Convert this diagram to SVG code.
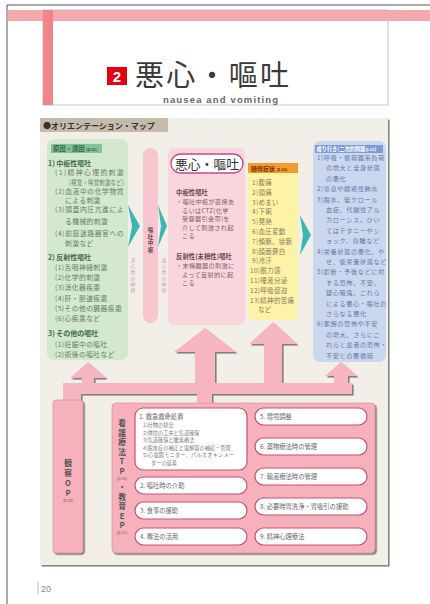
<svg xmlns="http://www.w3.org/2000/svg" width="430" height="604" viewBox="0 0 430 604">
<defs>
<filter id="sh" x="-10%" y="-10%" width="130%" height="130%"><feDropShadow dx="1.6" dy="1.6" stdDeviation="0.7" flood-color="#444" flood-opacity="0.65"/></filter>
<style>
text{font-family:"Noto Sans CJK JP","Noto Sans",sans-serif;}
.g{font-size:6.8px;fill:#5f7f63;letter-spacing:0.4px}
.gb{font-size:7px;fill:#3f6b45;font-weight:bold}
.c{font-size:6.2px;fill:#7a6268;letter-spacing:0.3px}
.cb{font-size:6.4px;fill:#6a4a52;font-weight:bold}
.y{font-size:6.5px;fill:#8a7a5a;letter-spacing:0.3px}
.b{font-size:6.2px;fill:#6678a8;letter-spacing:0.6px}
.it{font-size:6.3px;fill:#666}
.sub{font-size:5.2px;fill:#777}
.vt2{font-size:7.7px;fill:#555;font-weight:bold;text-anchor:middle}
.vp{font-size:4px;font-weight:normal;fill:#666}
.nv{font-size:5px;fill:#d59aa6;text-anchor:middle}
.item{fill:#fff;stroke:#c9506e;stroke-width:1.2}
.pk{fill:#f6b6c1}
.tl{fill:#3bb7b0}
</style>
</defs>
<rect width="430" height="604" fill="#fff"/>
<!-- page frame -->
<line x1="7" y1="5" x2="430" y2="5" stroke="#555" stroke-width="1"/>
<line x1="7" y1="5" x2="7" y2="604" stroke="#555" stroke-width="1"/>
<!-- header -->
<g id="header">
<rect x="7.5" y="10" width="422.5" height="11" fill="#f5a9ad"/>
<rect x="43" y="10" width="345" height="95" fill="none" stroke="#b8b8b8" stroke-width="0.8"/>
<rect x="43" y="10" width="10" height="95" fill="#ef8589"/>
<rect x="107" y="67" width="20" height="18" fill="#e60012"/>
<text x="117" y="82" font-size="15" font-weight="bold" fill="#fff" text-anchor="middle" style="font-family:'Liberation Sans',sans-serif">2</text>
<text x="135" y="86" font-size="29" fill="#3a3a3a" textLength="154" lengthAdjust="spacing">悪心・嘔吐</text>
<text x="163" y="103" font-size="9.5" font-weight="bold" fill="#666" textLength="115" style="font-family:'Liberation Sans',sans-serif">nausea and vomiting</text>
</g>
<!-- panel -->
<g id="panel">
<rect x="40" y="118" width="348" height="447" fill="#f2efe9" filter="url(#sh)"/>
<rect x="40" y="118" width="128" height="14" fill="#c6bbab"/>
<text x="43" y="128.5" font-size="8" font-weight="bold" fill="#333">●オリエンテーション・マップ</text>
</g>
<!-- connectors -->
<g id="connectors">
<g filter="url(#sh)">
<rect class="pk" x="63" y="383" width="289" height="11"/>
<rect class="pk" x="63" y="383" width="18" height="20"/>
<rect class="pk" x="197" y="390" width="15" height="15"/>
<polygon class="pk" points="88,362 106,378 94,378 94,388 82,388 82,378 70,378"/>
<polygon class="pk" points="205,328 236,352 215,352 215,388 195,388 195,352 174,352"/>
<polygon class="pk" points="273,322 297,344 282,344 282,388 264,388 264,344 249,344"/>
<polygon class="pk" points="341,362 357,376 348,376 348,388 334,388 334,376 325,376"/>
</g>
<polygon class="tl" points="128,205 140,226 128,247 132,226"/>
<polygon class="tl" points="158,205 167,226 158,247 161,226"/>
<polygon class="tl" points="300,215 311,235 300,255 303,235"/>
</g>
<!-- cause box -->
<g id="cause">
<rect x="47" y="139" width="81" height="221" rx="7" fill="#d3e8cf"/>
<rect x="51" y="144" width="51" height="9" fill="#86c095"/>
<text x="53" y="151" font-size="6.3" font-weight="bold" fill="#2c6a3c">原因・誘因 <tspan font-size="4">(p.22)</tspan></text>
<text class="gb" x="48" y="166">1) 中枢性嘔吐</text>
<text class="g" x="55" y="175" textLength="69" lengthAdjust="spacing">(1)精神心理的刺激</text>
<text class="g" x="69" y="184.5" font-size="6" textLength="55" lengthAdjust="spacingAndGlyphs">(視覚・嗅覚刺激など)</text>
<text class="g" x="55" y="194" textLength="69" lengthAdjust="spacing">(2)血液中の化学物質</text>
<text class="g" x="65" y="202.5">による刺激</text>
<text class="g" x="55" y="212" textLength="69" lengthAdjust="spacing">(3)頭蓋内圧亢進によ</text>
<text class="g" x="65" y="224">る機械的刺激</text>
<text class="g" x="55" y="235.5" textLength="69" lengthAdjust="spacing">(4)前庭迷路器官への</text>
<text class="g" x="65" y="245.5">刺激など</text>
<text class="gb" x="48" y="259.5">2) 反射性嘔吐</text>
<text class="g" x="55" y="269.5">(1)舌咽神経刺激</text>
<text class="g" x="55" y="279.5">(2)化学的刺激</text>
<text class="g" x="55" y="290">(3)消化器疾患</text>
<text class="g" x="55" y="300.5">(4)肝・胆道疾患</text>
<text class="g" x="55" y="310.5">(5)その他の臓器疾患</text>
<text class="g" x="55" y="320.5">(6)心疾患など</text>
<text class="gb" x="48" y="335.5">3) その他の嘔吐</text>
<text class="g" x="55" y="347">(1)妊娠中の嘔吐</text>
<text class="g" x="55" y="356.5">(2)術後の嘔吐など</text>
</g>
<!-- vomiting center -->
<g id="center-bar">
<rect x="143" y="148" width="15" height="175" rx="7.5" fill="#f7c6cf"/>
<text font-size="5.6" fill="#6a4a52" font-weight="bold" text-anchor="middle"><tspan x="150.5" y="232">嘔</tspan><tspan x="150.5" y="238.7">吐</tspan><tspan x="150.5" y="245.4">中</tspan><tspan x="150.5" y="252.1">枢</tspan></text>
</g>
<g id="afferent">
<text class="nv"><tspan x="133" y="262">求</tspan><tspan x="133" y="268">心</tspan><tspan x="133" y="274">性</tspan><tspan x="133" y="280">の</tspan><tspan x="133" y="286">神</tspan><tspan x="133" y="292">経</tspan></text>
</g>
<g id="efferent">
<text class="nv"><tspan x="164" y="262">遠</tspan><tspan x="164" y="268">心</tspan><tspan x="164" y="274">性</tspan><tspan x="164" y="280">の</tspan><tspan x="164" y="286">神</tspan><tspan x="164" y="292">経</tspan></text>
</g>
<!-- nausea/vomiting box -->
<g id="nausea">
<rect x="168" y="148" width="77" height="177" rx="6" fill="#f9d6de"/>
<rect x="171" y="154" width="72" height="19" rx="9.5" fill="#fff" stroke="#c8458a" stroke-width="1.3"/>
<text x="175" y="168.5" font-size="13" fill="#333" textLength="64" lengthAdjust="spacingAndGlyphs">悪心・嘔吐</text>
<text class="cb" x="176" y="195">中枢性嘔吐</text>
<text class="c" x="176" y="204">・嘔吐中枢が直接あ</text>
<text class="c" x="182" y="212.5">るいはCTZ(化学</text>
<text class="c" x="182" y="221">受容器引金帯)を</text>
<text class="c" x="182" y="229.5">介して刺激され起</text>
<text class="c" x="182" y="238">こる</text>
<text class="cb" x="176" y="259">反射性(末梢性)嘔吐</text>
<text class="c" x="176" y="268">・末梢臓器の刺激に</text>
<text class="c" x="182" y="276.5">よって反射的に起</text>
<text class="c" x="182" y="285">こる</text>
</g>
<!-- accompanying symptoms -->
<g id="symptoms">
<rect x="248" y="163" width="50" height="157" rx="5" fill="#fdf3a6"/>
<rect x="248" y="163" width="50" height="10" fill="#f39a32"/>
<text x="251" y="170.5" font-size="6" font-weight="bold" fill="#7a3300">随伴症状 <tspan font-size="3.8">(p.24)</tspan></text>
<text class="y" x="252" y="185">1)腹痛</text>
<text class="y" x="252" y="194.8">2)頭痛</text>
<text class="y" x="252" y="204.6">3)めまい</text>
<text class="y" x="252" y="214.4">4)下痢</text>
<text class="y" x="252" y="224.2">5)発熱</text>
<text class="y" x="252" y="234">6)血圧変動</text>
<text class="y" x="252" y="243.8">7)頻脈、徐脈</text>
<text class="y" x="252" y="253.6">8)顔面蒼白</text>
<text class="y" x="252" y="263.4">9)冷汗</text>
<text class="y" x="250" y="273.2">10)脱力感</text>
<text class="y" x="250" y="283">11)唾液分泌</text>
<text class="y" x="250" y="292.8">12)呼吸促迫</text>
<text class="y" x="250" y="302.6">13)精神的苦痛</text>
<text class="y" x="258" y="312.4">など</text>
</g>
<!-- consequences -->
<g id="consequences">
<rect x="313" y="141" width="73" height="221" rx="7" fill="#cad7ef"/>
<rect x="315" y="145" width="68" height="8" fill="#7d9bd6"/>
<text x="316.5" y="151.3" font-size="5.2" font-weight="bold" fill="#fff">成り行き(二次的問題<tspan font-size="3.8"> p.21</tspan>)</text>
<text class="b" x="317" y="160">1)呼吸・循環器系負荷</text>
<text class="b" x="326" y="170.4">の増大と全身状態</text>
<text class="b" x="326" y="180.8">の悪化</text>
<text class="b" x="317" y="191.2">2)窒息や誤嚥性肺炎</text>
<text class="b" x="317" y="201.6">3)脱水、低クロール</text>
<text class="b" x="326" y="212">血症、代謝性アル</text>
<text class="b" x="326" y="222.4">カローシス、ひい</text>
<text class="b" x="326" y="232.8">てはテタニーやシ</text>
<text class="b" x="326" y="243.2">ョック、昏睡など</text>
<text class="b" x="317" y="253.6">4)栄養状態の悪化、や</text>
<text class="b" x="326" y="264">せ、低栄養状態など</text>
<text class="b" x="317" y="274.4">5)診断・予後などに対</text>
<text class="b" x="326" y="284.8">する恐怖、不安、</text>
<text class="b" x="326" y="295.2">疑心暗鬼、これら</text>
<text class="b" x="326" y="305.6">による悪心・嘔吐の</text>
<text class="b" x="326" y="316">さらなる悪化</text>
<text class="b" x="317" y="326.4">6)家族の恐怖や不安</text>
<text class="b" x="326" y="336.8">の増大、さらにこ</text>
<text class="b" x="326" y="347.2">れらと患者の恐怖・</text>
<text class="b" x="326" y="357.6">不安との悪循環</text>
</g>
<!-- OP -->
<g id="op">
<rect x="53" y="400" width="30" height="153" rx="3" fill="#f6b1bc" stroke="#d48a97" stroke-width="0.6" filter="url(#sh)"/>
<text class="vt2"><tspan x="68" y="465.5">観</tspan><tspan x="68" y="475.5">察</tspan><tspan x="68" y="485.5">O</tspan><tspan x="68" y="495.5">P</tspan><tspan class="vp" x="68" y="502">(p.28)</tspan></text>
</g>
<!-- TP / EP -->
<g id="tpep">
<rect x="112" y="403" width="263" height="150" rx="4" fill="#f6b1bc" stroke="#d48a97" stroke-width="0.6" filter="url(#sh)"/>
<text class="vt2"><tspan x="122" y="426">看</tspan><tspan x="122" y="435.5">護</tspan><tspan x="122" y="445">療</tspan><tspan x="122" y="454.5">法</tspan><tspan x="122" y="464">T</tspan><tspan x="122" y="473.5">P</tspan><tspan class="vp" x="122" y="479.5">(p.30)</tspan><tspan x="122" y="489.5">・</tspan><tspan x="122" y="499.5">教</tspan><tspan x="122" y="509">育</tspan><tspan x="122" y="518.5">E</tspan><tspan x="122" y="528">P</tspan><tspan class="vp" x="122" y="534">(p.31)</tspan></text>
</g>
<g id="item1">
<rect class="item" x="135" y="408" width="112" height="62" rx="8"/>
<text class="it" x="139" y="419">1. 救急救命処置</text>
<text class="sub" x="143" y="427">1)吐物の排出</text>
<text class="sub" x="143" y="434.5">2)体位の工夫と気道確保</text>
<text class="sub" x="143" y="442">3)気道確保と酸素療法</text>
<text class="sub" x="143" y="449.5">4)脱水症の補正と電解質の補給・管理</text>
<text class="sub" x="143" y="457" letter-spacing="0.2">5)心電図モニター、パルスオキシメー</text>
<text class="sub" x="151" y="464.5">ターの装着</text>
</g>
<g id="item2"><rect class="item" x="135" y="477" width="112" height="17" rx="8.5"/><text class="it" x="140" y="488">2. 嘔吐時の介助</text></g>
<g id="item3"><rect class="item" x="135" y="502" width="112" height="17" rx="8.5"/><text class="it" x="140" y="513">3. 食事の援助</text></g>
<g id="item4"><rect class="item" x="135" y="528" width="112" height="17" rx="8.5"/><text class="it" x="140" y="539">4. 罨法の活用</text></g>
<g id="item5"><rect class="item" x="255" y="408" width="112" height="17" rx="8.5"/><text class="it" x="260" y="419">5. 環境調整</text></g>
<g id="item6"><rect class="item" x="255" y="438" width="112" height="17" rx="8.5"/><text class="it" x="260" y="449">6. 薬物療法時の管理</text></g>
<g id="item7"><rect class="item" x="255" y="468" width="112" height="17" rx="8.5"/><text class="it" x="260" y="479">7. 輸液療法時の管理</text></g>
<g id="item8"><rect class="item" x="255" y="498" width="112" height="17" rx="8.5"/><text class="it" x="260" y="509">8. 必要時胃洗浄・胃吸引の援助</text></g>
<g id="item9"><rect class="item" x="255" y="528" width="112" height="17" rx="8.5"/><text class="it" x="260" y="539">9. 精神心理療法</text></g>
<!-- page number -->
<g id="pageno">
<line x1="38" y1="582" x2="38" y2="594" stroke="#bbb" stroke-width="1"/>
<text x="41" y="592" font-size="9" fill="#888" style="font-family:'Liberation Sans',sans-serif">20</text>
</g>
</svg>
